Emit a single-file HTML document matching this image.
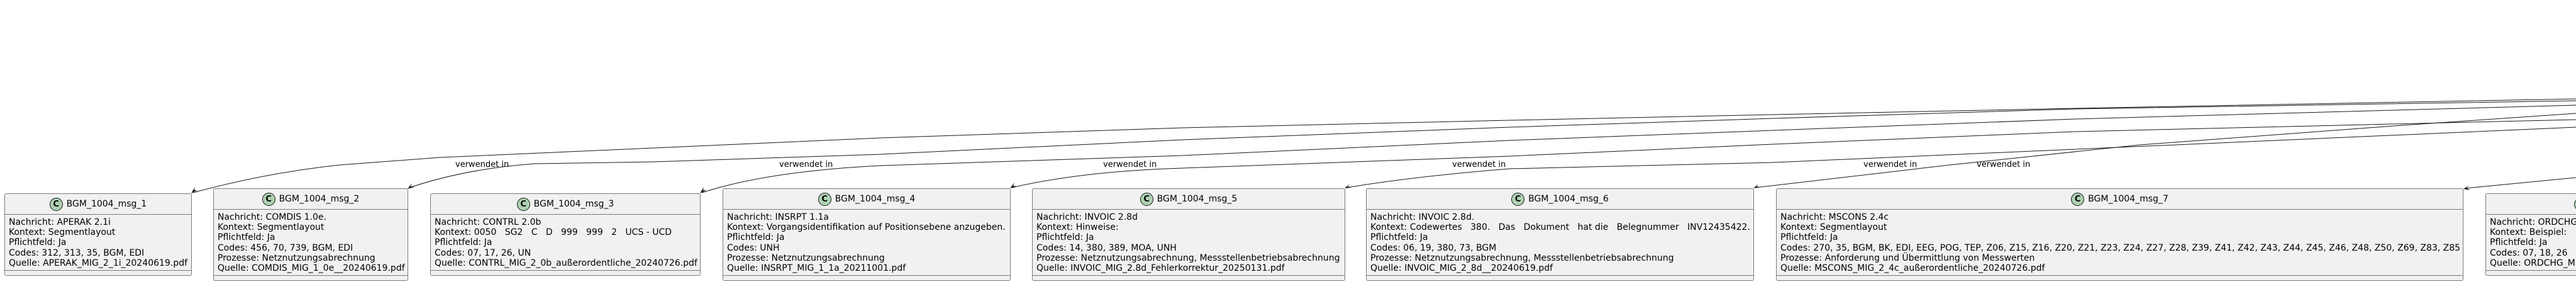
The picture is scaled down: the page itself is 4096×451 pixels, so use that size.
<!DOCTYPE html>
<html><head><meta charset="utf-8"><style>
body{margin:0;width:4096px;height:451px;background:#fff;position:relative;overflow:hidden;font-family:"DejaVu Sans","Liberation Sans",sans-serif;}
.b{position:absolute;background:#f1f1f1;border:1px solid #7a7a7a;border-radius:3px;box-sizing:border-box;overflow:hidden}
.h{height:32px;border-bottom:1px solid #7a7a7a;display:flex;align-items:center;justify-content:center;font-size:14px;color:#000;white-space:nowrap}
.c{width:21px;height:21px;border-radius:50%;background:#add1b2;border:1px solid #181818;box-sizing:border-box;display:inline-flex;align-items:center;justify-content:center;font-weight:bold;font-size:13px;margin-right:6px;flex:none}
.t{padding:4px 0 0 6px;font-size:14px;line-height:16.2px;white-space:pre;color:#000}
.f{position:absolute;left:0;right:0;bottom:7px;border-top:1px solid #7a7a7a}
.l{position:absolute;font-size:13px;top:254px;white-space:nowrap;color:#000}
svg{position:absolute;left:0;top:0}
</style></head><body>
<svg width="4096" height="451" fill="none" stroke="#181818" stroke-width="1">
<path d="M4096,157 L3300,172 L2820,182 L2400,191 L1880,203 L1400,219 L1040,235 L700,250 L540,262 Q420,275 307,306"/>
<path d="M4096,160 L3300,173 L2820,188 L2400,202 L1880,222 L1400,245 L1040,257 L850,260 Q740,268 651,298"/>
<path d="M4096,167 L3300,189 L2820,207 L2400,223 L1880,247 L1400,263 Q1220,272 1116,306"/>
<path d="M4096,190 L3300,209 L2820,229 L2400,248 L1880,267 Q1720,272 1609,298"/>
<path d="M4096,202 L3300,237 L2820,258 L2400,268 Q2250,280 2141,298"/>
<path d="M4096,180 L3820,199 L3403,230 L3100,262 L2791,298"/>
<path d="M4096,282 L3920,299"/>
<g fill="#181818" stroke="none">
<polygon points="304,307 310,297 309,302 314,302"/>
<polygon points="648,300 655,291 653,296 659,297"/>
<polygon points="1113,307 1119,297 1118,302 1123,302"/>
<polygon points="1606,299 1613,290 1611,295 1617,296"/>
<polygon points="2138,299 2146,292 2143,296 2149,298"/>
<polygon points="2788,299 2796,292 2793,296 2799,297"/>
<polygon points="3917,300 3926,294 3922,298 3927,302"/>
</g>
</svg>
<div class="l" style="left:724px">verwendet in</div>
<div class="l" style="left:1239px">verwendet in</div>
<div class="l" style="left:1754px">verwendet in</div>
<div class="l" style="left:2309px">verwendet in</div>
<div class="l" style="left:2963px">verwendet in</div>
<div class="l" style="left:3143px">verwendet in</div>

<div class="b" style="left:7px;top:307px;width:298px;height:131px"><div class="h"><span class="c">C</span>BGM_1004_msg_1</div><div class="t">Nachricht: APERAK 2.1i
Kontext: Segmentlayout
Pflichtfeld: Ja
Codes: 312, 313, 35, BGM, EDI
Quelle: APERAK_MIG_2_1i_20240619.pdf</div><div class="f"></div></div>

<div class="b" style="left:339px;top:299px;width:310px;height:147px"><div class="h"><span class="c">C</span>BGM_1004_msg_2</div><div class="t">Nachricht: COMDIS 1.0e.
Kontext: Segmentlayout
Pflichtfeld: Ja
Codes: 456, 70, 739, BGM, EDI
Prozesse: Netznutzungsabrechnung
Quelle: COMDIS_MIG_1_0e__20240619.pdf</div><div class="f"></div></div>

<div class="b" style="left:684px;top:307px;width:430px;height:131px"><div class="h"><span class="c">C</span>BGM_1004_msg_3</div><div class="t">Nachricht: CONTRL 2.0b
Kontext: 0050   SG2   C   D   999   999   2   UCS - UCD
Pflichtfeld: Ja
Codes: 07, 17, 26, UN
Quelle: CONTRL_MIG_2_0b_außerordentliche_20240726.pdf</div><div class="f"></div></div>

<div class="b" style="left:1149px;top:299px;width:458px;height:147px"><div class="h"><span class="c">C</span>BGM_1004_msg_4</div><div class="t">Nachricht: INSRPT 1.1a
Kontext: Vorgangsidentifikation auf Positionsebene anzugeben.
Pflichtfeld: Ja
Codes: UNH
Prozesse: Netznutzungsabrechnung
Quelle: INSRPT_MIG_1_1a_20211001.pdf</div><div class="f"></div></div>

<div class="b" style="left:1641px;top:299px;width:498px;height:147px"><div class="h"><span class="c">C</span>BGM_1004_msg_5</div><div class="t">Nachricht: INVOIC 2.8d
Kontext: Hinweise:
Pflichtfeld: Ja
Codes: 14, 380, 389, MOA, UNH
Prozesse: Netznutzungsabrechnung, Messstellenbetriebsabrechnung
Quelle: INVOIC_MIG_2.8d_Fehlerkorrektur_20250131.pdf</div><div class="f"></div></div>

<div class="b" style="left:2172px;top:299px;width:617px;height:147px"><div class="h"><span class="c">C</span>BGM_1004_msg_6</div><div class="t">Nachricht: INVOIC 2.8d.
Kontext: Codewertes   380.   Das   Dokument   hat die   Belegnummer   INV12435422.
Pflichtfeld: Ja
Codes: 06, 19, 380, 73, BGM
Prozesse: Netznutzungsabrechnung, Messstellenbetriebsabrechnung
Quelle: INVOIC_MIG_2_8d__20240619.pdf</div><div class="f"></div></div>

<div class="b" style="left:2824px;top:299px;width:1093px;height:147px"><div class="h"><span class="c">C</span>BGM_1004_msg_7</div><div class="t">Nachricht: MSCONS 2.4c
Kontext: Segmentlayout
Pflichtfeld: Ja
Codes: 270, 35, BGM, BK, EDI, EEG, POG, TEP, Z06, Z15, Z16, Z20, Z21, Z23, Z24, Z27, Z28, Z39, Z41, Z42, Z43, Z44, Z45, Z46, Z48, Z50, Z69, Z83, Z85
Prozesse: Anforderung und Übermittlung von Messwerten
Quelle: MSCONS_MIG_2_4c_außerordentliche_20240726.pdf</div><div class="f"></div></div>

<div class="b" style="left:3952px;top:307px;width:340px;height:131px"><div class="h" style="justify-content:flex-start;padding-left:140px"><span class="c">C</span>BGM_1004_msg_8</div><div class="t">Nachricht: ORDCHG 1.0
Kontext: Beispiel:
Pflichtfeld: Ja
Codes: 07, 18, 26
Quelle: ORDCHG_MIG_1_0_20240619.pdf</div><div class="f"></div></div>
</body></html>
